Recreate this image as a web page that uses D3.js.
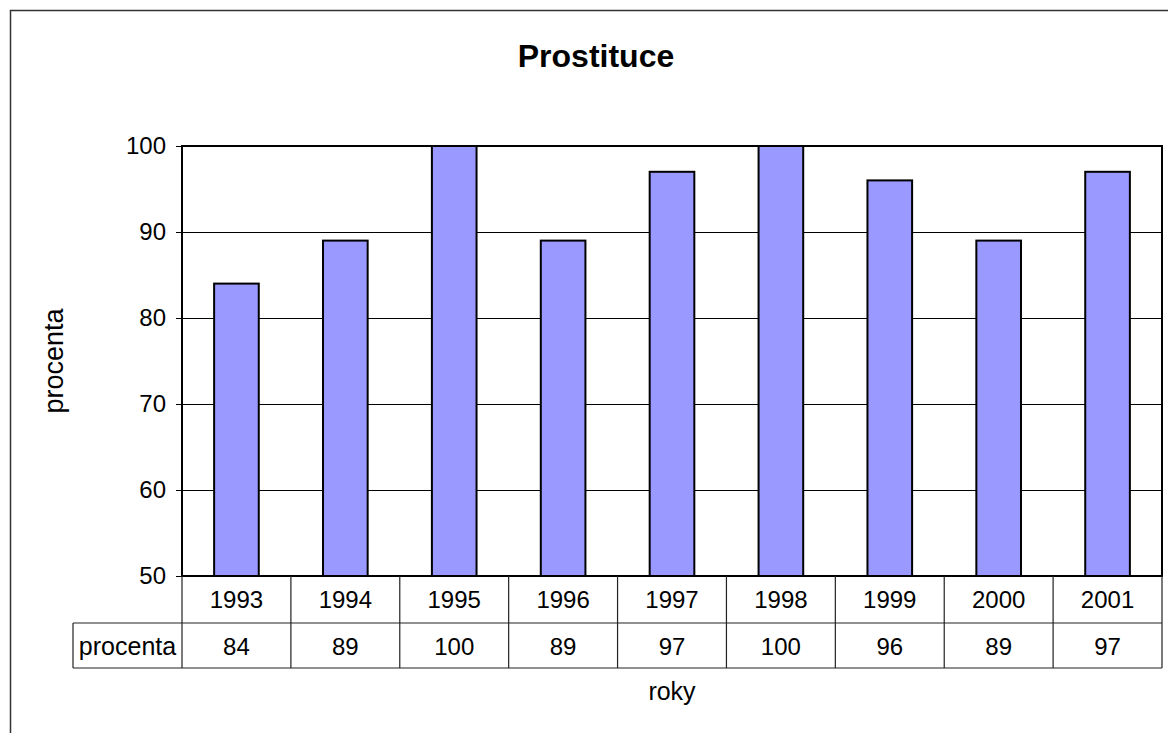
<!DOCTYPE html>
<html lang="cs">
<head>
    <meta charset="UTF-8">
    <title>Prostituce</title>
    <script src="https://d3js.org/d3.v7.min.js"></script>
    <style>
        body, html {
            margin: 0;
            padding: 0;
            background: #fff;
            overflow: hidden;
            font-family: Arial, "Liberation Sans", sans-serif;
        }
    </style>
</head>
<body>
    <div id="chart"></div>

    <script>
        // data
        const years = ["1993", "1994", "1995", "1996", "1997", "1998", "1999", "2000", "2001"];
        const values = [84, 89, 100, 89, 97, 100, 96, 89, 97];
        const yTicks = [50, 60, 70, 80, 90, 100];
        const seriesName = "procenta";

        const width = 1168, height = 733;
        const plot = {left: 182, top: 146, right: 1162, bottom: 576};
        const rowH1 = 47, rowH2 = 45;  // table rows under the plot
        const labelCellLeft = 73;

        const svg = d3.select("#chart").append("svg")
            .attr("width", width)
            .attr("height", height);

        // outer chart frame (runs off the page on the right and bottom)
        svg.append("rect")
            .attr("x", 10.5).attr("y", 10.5)
            .attr("width", 1200).attr("height", 800)
            .attr("fill", "none")
            .attr("stroke", "#333")
            .attr("stroke-width", 1.5);

        const x = d3.scaleBand()
            .domain(years)
            .range([plot.left, plot.right]);

        const y = d3.scaleLinear()
            .domain([50, 100])
            .range([plot.bottom, plot.top]);

        // gridlines
        svg.append("g")
            .selectAll("line")
            .data(yTicks.slice(1, -1))
            .enter().append("line")
            .attr("x1", plot.left).attr("x2", plot.right)
            .attr("y1", d => Math.round(y(d)) + 0.5)
            .attr("y2", d => Math.round(y(d)) + 0.5)
            .attr("stroke", "#000")
            .attr("stroke-width", 1);

        // bars
        const barW = x.bandwidth() * 0.41;
        svg.append("g")
            .selectAll("rect")
            .data(values)
            .enter().append("rect")
            .attr("x", (d, i) => x(years[i]) + (x.bandwidth() - barW) / 2)
            .attr("y", d => y(d))
            .attr("width", barW)
            .attr("height", d => y(50) - y(d))
            .attr("fill", "#9999ff")
            .attr("stroke", "#000")
            .attr("stroke-width", 2);

        // plot frame
        svg.append("rect")
            .attr("x", plot.left).attr("y", plot.top)
            .attr("width", plot.right - plot.left)
            .attr("height", plot.bottom - plot.top)
            .attr("fill", "none")
            .attr("stroke", "#000")
            .attr("stroke-width", 2);

        // y axis
        const yAxis = svg.append("g")
            .attr("transform", `translate(${plot.left},0)`)
            .call(d3.axisLeft(y).tickValues(yTicks).tickSize(6).tickPadding(10));
        yAxis.select(".domain").remove();
        yAxis.selectAll("line").attr("stroke", "#000");
        yAxis.selectAll("text")
            .attr("font-family", "Arial, 'Liberation Sans', sans-serif")
            .attr("font-size", 24)
            .attr("fill", "#000");

        // data table under the plot
        const tableTop = plot.bottom;
        const row2 = tableTop + rowH1;
        const tableBottom = row2 + rowH2;
        const tbl = svg.append("g").attr("stroke", "#222").attr("stroke-width", 1.2);

        // horizontal lines
        tbl.append("line").attr("x1", labelCellLeft).attr("x2", plot.right)
            .attr("y1", row2).attr("y2", row2);
        tbl.append("line").attr("x1", labelCellLeft).attr("x2", plot.right)
            .attr("y1", tableBottom).attr("y2", tableBottom);
        // vertical lines
        const cuts = years.map(d => x(d)).concat([plot.right]);
        tbl.selectAll(".v")
            .data(cuts)
            .enter().append("line")
            .attr("x1", d => d).attr("x2", d => d)
            .attr("y1", tableTop).attr("y2", tableBottom);
        tbl.append("line").attr("x1", labelCellLeft).attr("x2", labelCellLeft)
            .attr("y1", row2).attr("y2", tableBottom);

        const txt = svg.append("g")
            .attr("font-family", "Arial, 'Liberation Sans', sans-serif")
            .attr("font-size", 24)
            .attr("fill", "#000");

        txt.selectAll(".yr")
            .data(years)
            .enter().append("text")
            .attr("x", d => x(d) + x.bandwidth() / 2)
            .attr("y", tableTop + 32)
            .attr("text-anchor", "middle")
            .text(d => d);

        txt.selectAll(".val")
            .data(values)
            .enter().append("text")
            .attr("x", (d, i) => x(years[i]) + x.bandwidth() / 2)
            .attr("y", row2 + 32)
            .attr("text-anchor", "middle")
            .text(d => d);

        txt.append("text")
            .attr("x", (labelCellLeft + plot.left) / 2)
            .attr("y", row2 + 32)
            .attr("font-size", 25)
            .attr("text-anchor", "middle")
            .text(seriesName);

        // axis titles
        txt.append("text")
            .attr("x", (plot.left + plot.right) / 2)
            .attr("y", 700)
            .attr("font-size", 25)
            .attr("text-anchor", "middle")
            .text("roky");

        txt.append("text")
            .attr("transform", `translate(63,${(plot.top + plot.bottom) / 2}) rotate(-90)`)
            .attr("font-size", 27)
            .attr("text-anchor", "middle")
            .text("procenta");

        // title
        svg.append("text")
            .attr("x", 596)
            .attr("y", 67)
            .attr("text-anchor", "middle")
            .attr("font-family", "Arial, 'Liberation Sans', sans-serif")
            .attr("font-size", 32)
            .attr("font-weight", "bold")
            .text("Prostituce");
    </script>
</body>
</html>
